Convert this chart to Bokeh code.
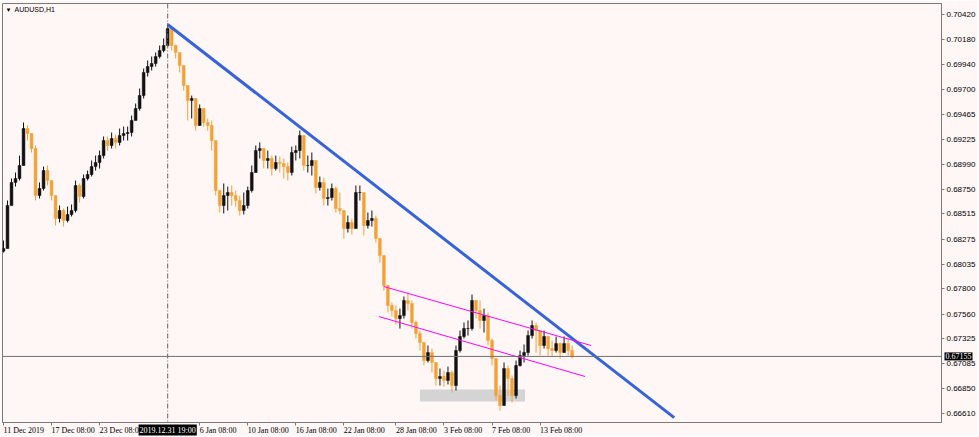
from bokeh.plotting import figure
from bokeh.models import (FixedTicker, PrintfTickFormatter, Span, Label, Range1d, ColumnDataSource)
from bokeh.embed import file_html
from bokeh.resources import INLINE

symbol_title = "AUDUSD,H1"

# 8-hour candles (index = candle number)
first_open = 0.68160
close = [
    0.68185, 0.68596, 0.68816, 0.68854, 0.68978, 0.69331, 0.69284, 0.69140, 0.68691, 0.68758,
    0.68930, 0.68835, 0.68691, 0.68472, 0.68548, 0.68453, 0.68510, 0.68548, 0.68787, 0.68682,
    0.68854, 0.68892, 0.68968, 0.69007, 0.69073, 0.69217, 0.69169, 0.69236, 0.69198, 0.69264,
    0.69284, 0.69293, 0.69408, 0.69522, 0.69646, 0.69866, 0.69923, 0.69952, 0.70019, 0.70076,
    0.70124, 0.70286, 0.70124, 0.70057, 0.69933, 0.69742, 0.69599, 0.69618, 0.69360, 0.69522,
    0.69389, 0.69360, 0.69217, 0.68739, 0.68596, 0.68691, 0.68720, 0.68691, 0.68644, 0.68548,
    0.68596, 0.68739, 0.68911, 0.69121, 0.69140, 0.69026, 0.69045, 0.68949, 0.69007, 0.68997,
    0.68968, 0.68911, 0.69102, 0.69121, 0.69264, 0.68978, 0.68978, 0.69026, 0.68768, 0.68816,
    0.68663, 0.68672, 0.68758, 0.68567, 0.68548, 0.68376, 0.68434, 0.68376, 0.68720, 0.68720,
    0.68405, 0.68453, 0.68472, 0.68281, 0.68118, 0.67832, 0.67641, 0.67593, 0.67517, 0.67545,
    0.67689, 0.67660, 0.67479, 0.67374, 0.67288, 0.67116, 0.67192, 0.67097, 0.66944, 0.66963,
    0.66925, 0.67001, 0.66877, 0.67211, 0.67345, 0.67421, 0.67421, 0.67689, 0.67593, 0.67498,
    0.67545, 0.67307, 0.67135, 0.66781, 0.66686, 0.67039, 0.66944, 0.66781, 0.67068, 0.67163,
    0.67192, 0.67354, 0.67450, 0.67402, 0.67259, 0.67345, 0.67230, 0.67211, 0.67278, 0.67192,
    0.67278, 0.67211, 0.67155,
]
high = [
    0.68262, 0.68644, 0.68854, 0.68911, 0.69073, 0.69389, 0.69360, 0.69236, 0.69169, 0.68816,
    0.68968, 0.68978, 0.68816, 0.68691, 0.68596, 0.68567, 0.68586, 0.68606, 0.68835, 0.68806,
    0.68892, 0.68930, 0.69026, 0.69073, 0.69121, 0.69255, 0.69255, 0.69293, 0.69274, 0.69331,
    0.69350, 0.69350, 0.69455, 0.69570, 0.69713, 0.69904, 0.69981, 0.70019, 0.70057, 0.70124,
    0.70191, 0.70334, 0.70219, 0.70133, 0.70057, 0.69866, 0.69675, 0.69646, 0.69599, 0.69561,
    0.69522, 0.69427, 0.69408, 0.69169, 0.68739, 0.68806, 0.68777, 0.68787, 0.68739, 0.68691,
    0.68720, 0.68777, 0.68978, 0.69169, 0.69198, 0.69140, 0.69121, 0.69073, 0.69073, 0.69064,
    0.69045, 0.69007, 0.69159, 0.69169, 0.69312, 0.69264, 0.69073, 0.69102, 0.68949, 0.68873,
    0.68863, 0.68758, 0.68806, 0.68777, 0.68720, 0.68529, 0.68500, 0.68472, 0.68787, 0.68787,
    0.68691, 0.68529, 0.68548, 0.68500, 0.68281, 0.68118, 0.67784, 0.67670, 0.67641, 0.67612,
    0.67727, 0.67765, 0.67689, 0.67498, 0.67402, 0.67288, 0.67259, 0.67230, 0.67068, 0.67039,
    0.67020, 0.67058, 0.67020, 0.67259, 0.67402, 0.67479, 0.67498, 0.67746, 0.67689, 0.67689,
    0.67612, 0.67574, 0.67326, 0.67116, 0.66877, 0.67097, 0.67068, 0.66972, 0.67116, 0.67211,
    0.67269, 0.67402, 0.67498, 0.67479, 0.67402, 0.67402, 0.67354, 0.67307, 0.67345, 0.67288,
    0.67345, 0.67326, 0.67259,
]
low = [
    0.68147, 0.68214, 0.68644, 0.68777, 0.68835, 0.68978, 0.69217, 0.69102, 0.68644, 0.68663,
    0.68739, 0.68787, 0.68644, 0.68405, 0.68434, 0.68395, 0.68434, 0.68491, 0.68529, 0.68625,
    0.68663, 0.68835, 0.68873, 0.68930, 0.68949, 0.69045, 0.69121, 0.69140, 0.69140, 0.69169,
    0.69217, 0.69217, 0.69255, 0.69427, 0.69503, 0.69618, 0.69828, 0.69885, 0.69923, 0.70000,
    0.70057, 0.70114, 0.70076, 0.70000, 0.69866, 0.69694, 0.69408, 0.69427, 0.69312, 0.69360,
    0.69350, 0.69312, 0.69121, 0.68691, 0.68529, 0.68520, 0.68548, 0.68596, 0.68586, 0.68500,
    0.68510, 0.68567, 0.68720, 0.68930, 0.69045, 0.68949, 0.68949, 0.68882, 0.68930, 0.68911,
    0.68854, 0.68835, 0.68882, 0.69026, 0.69045, 0.68930, 0.68911, 0.68882, 0.68711, 0.68739,
    0.68596, 0.68596, 0.68644, 0.68529, 0.68510, 0.68281, 0.68338, 0.68319, 0.68395, 0.68644,
    0.68309, 0.68376, 0.68395, 0.68243, 0.68052, 0.67784, 0.67574, 0.67536, 0.67460, 0.67421,
    0.67517, 0.67593, 0.67421, 0.67326, 0.67211, 0.67068, 0.67097, 0.67001, 0.66877, 0.66877,
    0.66867, 0.66887, 0.66810, 0.66829, 0.67192, 0.67326, 0.67354, 0.67402, 0.67517, 0.67421,
    0.67383, 0.67259, 0.67068, 0.66734, 0.66638, 0.66686, 0.66781, 0.66715, 0.66753, 0.67058,
    0.67097, 0.67163, 0.67326, 0.67192, 0.67163, 0.67230, 0.67163, 0.67154, 0.67192, 0.67135,
    0.67192, 0.67163, 0.67135,
]

# axis ticks / labels
y_ticks = [0.70420, 0.70180, 0.69940, 0.69700, 0.69465, 0.69225, 0.68990, 0.68750, 0.68515,
           0.68275, 0.68035, 0.67800, 0.67560, 0.67325, 0.67085, 0.66850, 0.66610]
x_tick_pos = [0, 12, 24, 49, 61, 73, 85, 98, 110, 122, 134]
x_tick_labels = ["11 Dec 2019", "17 Dec 08:00", "23 Dec 08:00", "6 Jan 08:00", "10 Jan 08:00",
                 "16 Jan 08:00", "22 Jan 08:00", "28 Jan 08:00", "3 Feb 08:00", "7 Feb 08:00",
                 "13 Feb 08:00"]
cursor_bar = 41
cursor_label = "2019.12.31 19:00"
last_price = 0.67155

# drawn objects (bar index, price)
trend_x = [41, 167.5]
trend_y = [0.70325, 0.66571]
chan_up_x = [95, 146.75]
chan_up_y = [0.67822, 0.67259]
chan_lo_x = [93.75, 145.25]
chan_lo_y = [0.67536, 0.66963]
zone_x = [104, 130.25]
zone_y = [0.66724, 0.66839]

BG = "#FFF6F6"
UP = "#111111"
DOWN = "#F5A033"
FONT = "Liberation Sans"
X0, X1 = -0.25, 234.25
Y0, Y1 = 0.66524, 0.70525

opens = [first_open] + close[:-1]
idx = list(range(len(close)))
hi = [max(h, o, c) for h, o, c in zip(high, opens, close)]
lo = [min(l, o, c) for l, o, c in zip(low, opens, close)]
cols = [UP if c >= o else DOWN for o, c in zip(opens, close)]
src = ColumnDataSource(dict(x=idx, o=opens, c=close, h=hi, l=lo, col=cols,
                            top=[max(o, c) for o, c in zip(opens, close)],
                            bot=[min(o, c) for o, c in zip(opens, close)]))

p = figure(width=978, height=436, output_backend="svg", toolbar_location=None,
           x_range=Range1d(X0, X1), y_range=Range1d(Y0, Y1),
           y_axis_location="right", min_border_left=2, min_border_top=3,
           min_border_right=0, min_border_bottom=14,
           background_fill_color=BG, border_fill_color=BG,
           outline_line_color="#7a7a7a")
p.grid.visible = False

# zone rectangle
p.quad(left=zone_x[0], right=zone_x[1], bottom=zone_y[0], top=zone_y[1],
       fill_color="#D4D4D4", line_color=None)

# cursor + last price lines
p.add_layout(Span(location=cursor_bar, dimension="height", line_color="#666666",
                  line_width=1, line_dash="5 2 1 2"))
p.add_layout(Span(location=last_price, dimension="width", line_color="#707070", line_width=1))

# candles
p.segment(x0="x", x1="x", y0="l", y1="h", color="col", line_width=1, source=src)
p.vbar(x="x", width=0.7, top="top", bottom="bot", fill_color="col", line_color="col",
       line_width=0.5, source=src)

# trend lines
p.line(trend_x, trend_y, line_color="#3563DA", line_width=3)
p.line(chan_up_x, chan_up_y, line_color="#FF00FF", line_width=1)
p.line(chan_lo_x, chan_lo_y, line_color="#FF00FF", line_width=1)

# axes
ya = p.yaxis[0]
ya.ticker = FixedTicker(ticks=y_ticks)
ya.formatter = PrintfTickFormatter(format="%.5f")
ya.major_label_text_font = FONT
ya.major_label_text_font_size = "8px"
ya.major_label_text_color = "#000000"
ya.major_tick_out = 3
ya.major_tick_in = 0
ya.minor_tick_out = 0
ya.minor_tick_in = 0
ya.major_label_standoff = 2
ya.axis_line_color = "#7a7a7a"
ya.major_tick_line_color = "#7a7a7a"

xa = p.xaxis[0]
xa.ticker = FixedTicker(ticks=x_tick_pos)
xa.major_label_overrides = {k: "" for k in x_tick_pos}
xa.major_label_text_font_size = "1px"
xa.major_label_text_color = None
xa.major_tick_out = 3
xa.major_tick_in = 0
xa.minor_tick_out = 0
xa.minor_tick_in = 0
xa.major_label_standoff = 0
xa.axis_line_color = "#7a7a7a"
xa.major_tick_line_color = "#7a7a7a"

# x tick labels, left aligned at their tick like the trading terminal
p.text(x=x_tick_pos, y=[Y0] * len(x_tick_pos), text=x_tick_labels, level="overlay",
       text_font=FONT, text_font_size="8px", text_baseline="top", text_align="left",
       text_color="#000000", y_offset=3)

# title
p.add_layout(Label(x=X0, y=Y1, x_offset=3, y_offset=-3, text="\u25BC",
                   text_font=FONT, text_font_size="6px", text_baseline="top",
                   text_color="#000000"))
p.add_layout(Label(x=X0, y=Y1, x_offset=12, y_offset=-2, text=symbol_title,
                   text_font=FONT, text_font_size="7px", text_baseline="top",
                   text_color="#000000"))

# price box on the price axis
p.text(x=[X1], y=[last_price], text=["%.5f" % last_price], level="overlay",
       text_font=FONT, text_font_size="8px", text_baseline="middle", text_align="left",
       text_color="#FFFFFF", x_offset=3, background_fill_color="#000000", padding=1)
# cursor time box on the time axis
p.text(x=[cursor_bar], y=[Y0], text=[cursor_label], level="overlay",
       text_font=FONT, text_font_size="8px", text_baseline="top", text_align="center",
       text_color="#FFFFFF", y_offset=2, background_fill_color="#000000", padding=1)

open("out.html", "w").write(file_html(p, INLINE))
